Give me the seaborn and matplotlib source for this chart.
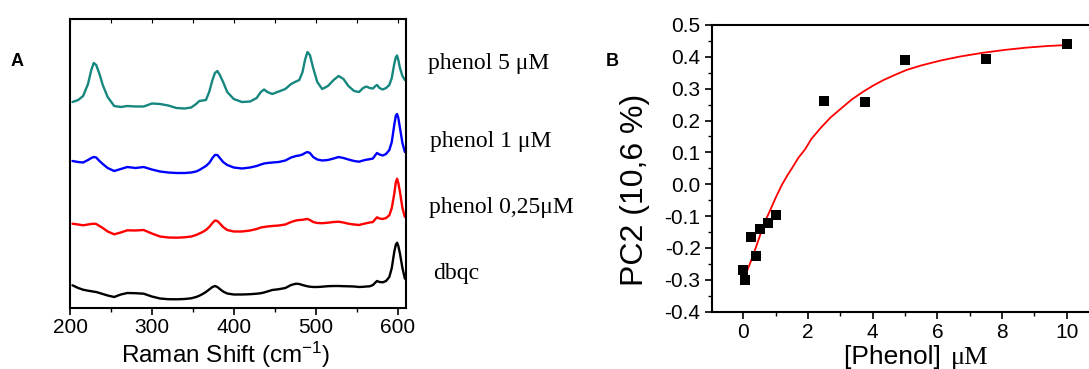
import numpy as np
import pandas as pd
import matplotlib
matplotlib.use("Agg")
import matplotlib.pyplot as plt
from matplotlib.ticker import MultipleLocator, FormatStrFormatter
import seaborn as sns

# ---------------- data: panel A (Raman spectra, offset, a.u.) ----------------
wavenumber = [203, 210, 216, 222, 226, 229, 232, 236, 240, 246,
              254, 262, 270, 280, 290, 300, 310, 320, 330, 340,
              348, 354, 358, 362, 366, 370, 374, 377, 380, 383,
              387, 392, 400, 410, 420, 428, 433, 437, 441, 447,
              455, 463, 470, 476, 480, 484, 487, 490, 493, 497,
              502, 508, 515, 522, 528, 534, 540, 547, 553, 558,
              562, 566, 570, 573, 575, 578, 582, 586, 590, 593,
              596, 598, 599.5, 601, 603, 606, 609]

phenol_5uM = [206, 208, 212, 224, 238, 245, 243, 234, 223, 211,
              202, 201, 202, 201.5, 201.5, 204.5, 204, 202.5, 200, 199.5,
              200.5, 204, 207, 207.5, 208, 216, 228, 235, 237, 233,
              226, 216, 209, 206, 206.5, 210, 216, 218.5, 216, 214,
              216.5, 219, 224, 226.5, 228, 236, 248, 256, 253, 240,
              226, 219, 222, 228, 232, 229, 222, 217, 216, 220,
              221.5, 220, 219.5, 222, 223, 220, 218.5, 220, 223, 230,
              244, 251, 252.5, 248, 240, 232, 228]

phenol_1uM = [147, 146, 145.5, 148, 150, 151, 150.5, 147, 144, 140,
              137, 139, 141, 140, 141, 138.5, 136.5, 135.5, 135, 135,
              135.5, 136.5, 138, 140, 142, 145, 150, 153, 153, 150,
              146, 143, 140.5, 139.5, 140.5, 142, 143.5, 144.5, 145, 145.5,
              146, 147.5, 150.5, 152, 152.5, 153.5, 155, 156, 155, 151,
              148.5, 147.5, 148, 149.5, 151, 150, 148.5, 147, 146.3, 147.5,
              148.3, 148.8, 149.5, 153, 155, 153.5, 152.5, 154, 158, 166,
              183, 192.5, 194, 190, 180, 165, 156]

phenol_025uM = [84.3, 83.5, 82.7, 83.5, 84, 84.3, 84, 82, 80, 76.5,
                73.7, 75.5, 77.7, 77.5, 78, 74.5, 71.5, 70.5, 70.3, 70.7,
                71.5, 73, 74.5, 76, 78, 81, 85, 87.5, 87, 84.5,
                81, 78, 76.5, 76.5, 77.5, 79, 80.5, 81, 81.5, 82,
                82.5, 83.5, 86, 87.5, 88, 88.2, 88.7, 89, 88, 86,
                85, 84.8, 85.3, 86, 86.3, 85.5, 84.3, 83.5, 83, 84,
                84.8, 85.5, 86, 89, 90.7, 89.5, 89, 90, 92.7, 100,
                114, 126, 129.3, 125, 116, 100, 91]

dbqc = [22.7, 20, 18.3, 17.3, 16.8, 16.3, 16, 15, 14, 12.5,
        11, 13.5, 15, 14.8, 14.3, 11.5, 9.5, 8.8, 8.7, 9,
        9.7, 11, 12.3, 14, 16, 18.5, 21, 22, 21, 19,
        16.5, 14.5, 13.5, 13.5, 13.8, 14.3, 14.8, 15.5, 16.5, 18,
        18.8, 20, 23, 24.3, 24, 23, 22.3, 21.7, 21.3, 21,
        21, 21.3, 21.8, 22, 22, 21.8, 21.7, 21.5, 21, 21.2,
        21.5, 21.7, 23, 25.5, 27, 26, 25.7, 27, 31, 40,
        56, 63.5, 65.3, 62, 54.3, 40, 29.3]

spectra_labels = ["phenol 5 \u03bcM", "phenol 1 \u03bcM", "phenol 0,25\u03bcM", "dbqc"]
spectra_colors = ["#16877f", "#0000ff", "#ff0000", "#000000"]

# ---------------- data: panel B (PC2 vs phenol) ----------------
conc = [0, 0.05, 0.25, 0.375, 0.5, 0.75, 1.0, 2.5, 3.75, 5.0, 7.5, 10.0]
pc2 = [-0.27, -0.30, -0.166, -0.225, -0.141, -0.12, -0.097, 0.261, 0.258, 0.39, 0.393, 0.44]

fit_x = [0.02, 0.2, 0.36, 0.5, 0.62, 0.8, 1.0, 1.19, 1.35, 1.5, 1.7, 1.91, 2.1, 2.4,
         2.7, 3.0, 3.35, 3.71, 4.0, 4.33, 4.7, 5.05, 5.5, 6.08, 6.7, 7.42, 8.1, 8.76, 9.4, 10.0]
fit_y = [-0.295, -0.25, -0.206, -0.165, -0.128, -0.088, -0.042, -0.002, 0.026, 0.05, 0.083,
         0.11, 0.142, 0.178, 0.21, 0.236, 0.266, 0.291, 0.309, 0.327, 0.344, 0.359, 0.373,
         0.388, 0.401, 0.413, 0.422, 0.429, 0.434, 0.437]

# ---------------- style ----------------
sns.set_style("white")
plt.rcParams["font.family"] = ["Liberation Sans", "DejaVu Sans"]
plt.rcParams["mathtext.default"] = "regular"
for key in ["text.color", "axes.labelcolor", "xtick.color", "ytick.color"]:
    plt.rcParams[key] = "black"

W, H = 1089, 369
fig = plt.figure(figsize=(W / 100, H / 100), dpi=100)

def fx(px):
    return px / W

def fy(py):
    return 1 - py / H

# ---------------- panel A ----------------
axA = fig.add_axes([fx(70), fy(308), fx(405.7) - fx(70), fy(19) - fy(308)])
series = [phenol_5uM, phenol_1uM, phenol_025uM, dbqc]
for vals, col in zip(series, spectra_colors):
    sns.lineplot(x=wavenumber, y=vals, color=col, lw=1.7, ax=axA, sort=False)
axA.set_xlim(200, 610)
axA.set_ylim(0, 289)
axA.set_yticks([])
axA.xaxis.set_major_locator(MultipleLocator(100))
axA.xaxis.set_minor_locator(MultipleLocator(50))
axA.tick_params(axis="x", which="major", direction="out", length=5, width=1.2,
                labelsize=15, pad=2.5, bottom=True)
axA.tick_params(axis="x", which="minor", direction="out", length=3, width=1.0, bottom=True)
for s in axA.spines.values():
    s.set_linewidth(1.5)
    s.set_color("black")
secA = axA.secondary_xaxis("top")
secA.xaxis.set_major_locator(MultipleLocator(50))
secA.tick_params(direction="in", length=3, width=0.8, labeltop=False)
secA.spines["top"].set_visible(False)
axA.set_xlabel("")
fig.text(fx(226), fy(363), "Raman Shift (cm$^{-1}$)", fontsize=17.5,
         ha="center", va="baseline")

label_y = [63, 142, 207, 273]
label_x = [428, 430, 429, 433]
for txt, px, py in zip(spectra_labels, label_x, label_y):
    fig.text(fx(px), fy(py), txt, fontsize=17, ha="left", va="center",
             family=["Liberation Serif", "DejaVu Serif"])

fig.text(fx(11), fy(62), "A", fontsize=13, fontweight="bold", ha="left", va="center")
fig.text(fx(606), fy(62), "B", fontsize=13, fontweight="bold", ha="left", va="center")

# ---------------- panel B ----------------
axB = fig.add_axes([fx(711.7), fy(311.7), 1 - fx(711.7), fy(25) - fy(311.7)])
sns.lineplot(x=fit_x, y=fit_y, color="#ff0000", lw=1.3, ax=axB, sort=False)
sns.scatterplot(x=conc, y=pc2, marker="s", s=58, color="black", edgecolor="black",
                linewidth=0, ax=axB, zorder=3)
axB.set_xlim(-0.98, 10.69)
axB.set_ylim(-0.4, 0.5)
axB.xaxis.set_major_locator(MultipleLocator(2))
axB.xaxis.set_minor_locator(MultipleLocator(1))
axB.yaxis.set_major_locator(MultipleLocator(0.1))
axB.yaxis.set_minor_locator(MultipleLocator(0.05))
axB.yaxis.set_major_formatter(FormatStrFormatter("%.1f"))
axB.tick_params(axis="both", which="major", direction="out", length=5, width=1.2,
                labelsize=15, left=True, bottom=True, pad=3)
axB.tick_params(axis="both", which="minor", direction="out", length=3, width=1.0,
                left=True, bottom=True)
axB.spines["right"].set_visible(False)
for s in ["left", "top", "bottom"]:
    axB.spines[s].set_linewidth(1.5)
    axB.spines[s].set_color("black")
axB.set_ylabel("PC2 (10,6 %)", fontsize=23)
axB.yaxis.set_label_coords(-0.163, 0.426)
axB.set_xlabel("")
fig.text(fx(948), fy(364), "[Phenol] ", fontsize=19, ha="right", va="baseline")
fig.text(fx(951), fy(364), "\u03bcM", fontsize=19, ha="left", va="baseline",
         family=["Liberation Serif", "DejaVu Serif"])

fig.savefig("out.png", dpi=100)
